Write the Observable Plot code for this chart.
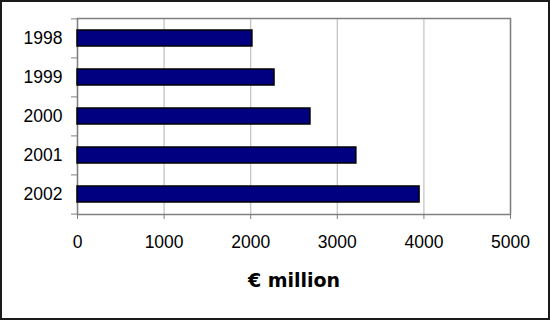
<!DOCTYPE html>
<html>
<head>
<meta charset="utf-8">
<script src="https://cdn.jsdelivr.net/npm/d3@7"></script>
<script src="https://cdn.jsdelivr.net/npm/@observablehq/plot@0.6"></script>
<style>
  html, body { margin: 0; padding: 0; background: #fff; }
  #wrap { position: relative; width: 550px; height: 320px; }
  #border { position: absolute; left: 0; top: 0; width: 550px; height: 320px; box-sizing: border-box; border: 2px solid #1a1a1a; pointer-events: none; z-index: 2; }
  #chart { position: absolute; left: 0; top: 0; }
</style>
</head>
<body>
<div id="wrap"><div id="chart"></div><div id="border"></div></div>
<script>
const years = ["1998", "1999", "2000", "2001", "2002"];
const values = [2020, 2275, 2690, 3220, 3950];
const xTicks = [0, 1000, 2000, 3000, 4000, 5000];
const xLabel = "€ million";

const data = years.map((y, i) => ({year: y, value: values[i]}));
const step = 196 / 5;

const plot = Plot.plot({
  width: 550,
  height: 320,
  marginLeft: 77,
  marginRight: 40,
  marginTop: 18,
  marginBottom: 106,
  style: {fontFamily: "Arial, 'Liberation Sans', sans-serif", fontSize: "17.5px", color: "#000", background: "transparent"},
  x: {domain: [0, 5000]},
  y: {domain: years, paddingInner: 0.6, paddingOuter: 0.3, align: 0.5},
  marks: [
    Plot.ruleX(xTicks, {x: d => d, stroke: "#c0c0c0", strokeWidth: 1.2}),
    Plot.frame({stroke: "#808080", strokeWidth: 1.5}),
    Plot.barX(data, {x: "value", y: "year", fill: "#000080", stroke: "#000", strokeWidth: 1.5}),
    Plot.axisX(xTicks, {tickSize: 5, tickPadding: 16, stroke: "#808080", fontSize: 17.5, label: null, tickFormat: d => String(d)}),
    Plot.axisY({tickSize: 0, tickPadding: 15, fontSize: 17.5, label: null}),
    Plot.axisY({text: null, tickSize: 6, stroke: "#808080", dy: -step / 2, label: null}),
    Plot.axisY([years[years.length - 1]], {text: null, tickSize: 6, stroke: "#808080", dy: step / 2, label: null}),
    Plot.text([xLabel], {frameAnchor: "bottom", dy: 72, text: d => d, fontSize: 19, fontWeight: "bold", fontFamily: "'DejaVu Sans', Verdana, sans-serif", lineAnchor: "bottom"})
  ]
});
document.getElementById("chart").appendChild(plot);
</script>
</body>
</html>
